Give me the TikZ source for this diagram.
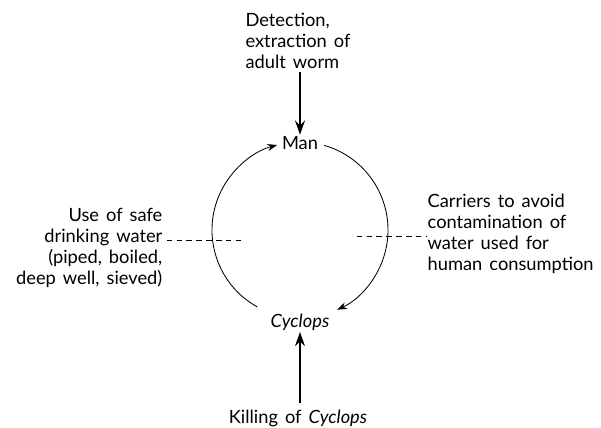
\documentclass[tikz,border=0pt]{standalone}
\usepackage{fontspec}
\setmainfont[WordSpace=1.5]{Lato}
\usetikzlibrary{arrows.meta,positioning,calc}

\begin{document}
\begin{tikzpicture}[>={Stealth[length=7pt,width=5pt]},
    font=\fontsize{13}{15}\selectfont,
    lbl/.style={inner sep=1pt},
    cyc/.style={->, line width=0.6pt},
    stop/.style={->, line width=1.5pt, >={Stealth[length=10pt,width=7pt]}},
    bar/.style={dashed, line width=0.5pt, dash pattern=on 4pt off 3pt}]
    \useasboundingbox (0,0) rectangle (15.025,10.7);

    % Nodes
    \coordinate (ctr) at (7.5,4.95);
    \node[lbl] (man) at (7.5,7.125) {Man};
    \node[lbl] (cyclops) at (7.5,2.65) {\itshape Cyclops};
    \node[lbl, align=left, anchor=north] (detect) at (7.45,10.42) {Detection,\\extraction of\\adult worm};
    \node[lbl, anchor=base] (kill) at (7.45,0.1) {Killing of \textit{Cyclops}};
    \node[lbl, align=right, anchor=east] (safe) at (4.1,4.5) {Use of safe\\drinking water\\(piped, boiled,\\deep well, sieved)};
    \node[lbl, align=left, anchor=west] (carry) at (10.65,4.85) {Carriers to avoid\\contamination of\\water used for\\human consumption};

    % Free ends of the barriers
    \coordinate (lbar) at (6.05,4.7);
    \coordinate (rbar) at (8.92,4.8);

    % Cycle
    \draw[cyc] ($(ctr)+(241:2.2)$) arc[start angle=241, end angle=105, radius=2.2];
    \draw[cyc] ($(ctr)+(74:2.2)$) arc[start angle=74, end angle=-65, radius=2.2];

    % Arrows
    \draw[stop] (man |- detect.south) ++(0,-0.05) -- (man.north);
    \draw[stop] (cyclops |- kill.north) ++(0,0.15) -- (cyclops.south);

    % Barriers
    \draw[bar] ([xshift=2pt]safe.east |- lbar) -- (lbar);
    \draw[bar] (rbar) -- (carry.west |- rbar);
\end{tikzpicture}
\end{document}
